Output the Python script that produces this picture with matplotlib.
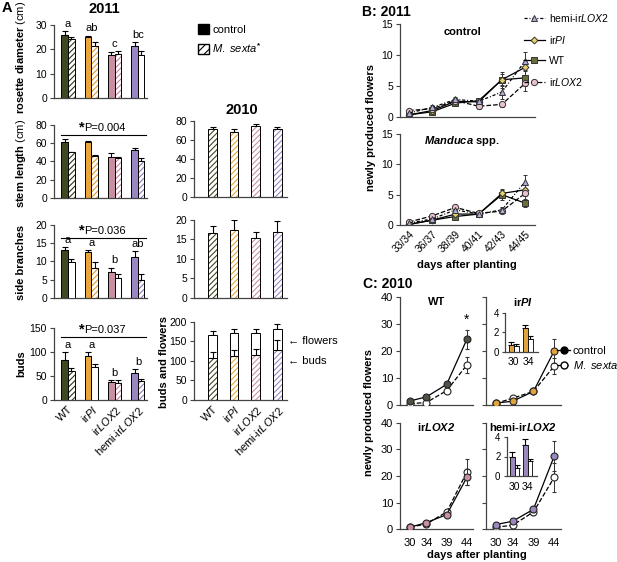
import matplotlib
matplotlib.use('Agg')
import matplotlib.pyplot as plt
from matplotlib.patches import Patch
from matplotlib.lines import Line2D
import numpy as np

plt.rcParams.update({
    'font.family': ['Liberation Sans', 'DejaVu Sans'],
    'font.size': 7.5,
    'mathtext.fontset': 'custom',
    'mathtext.rm': 'Liberation Sans',
    'mathtext.it': 'Liberation Sans:italic',
    'mathtext.bf': 'Liberation Sans:bold',
    'mathtext.bfit': 'Liberation Sans:italic:bold',
    'hatch.linewidth': 0.8,
    'axes.linewidth': 0.9,
})

# ---------------- data ----------------
genotypes = ['WT', 'irPI', 'irLOX2', 'hemi-irLOX2']
geno_labels = ['WT', r'ir$\mathit{PI}$', r'ir$\mathit{LOX2}$', r'hemi-ir$\mathit{LOX2}$']
geno_colors = ['#3f491f', '#e9a63b', '#c98fa0', '#9a86c0']
hatch_colors = ['#2f3618', '#e09a2c', '#c08496', '#8f7bb8']

# Panel A, 2011 (control / M. sexta)
rosette_ctrl = [26.1, 25.2, 17.7, 21.4]
rosette_ctrl_err = [1.6, 0.5, 1.3, 1.7]
rosette_ms = [24.4, 21.4, 18.1, 17.9]
rosette_ms_err = [0.7, 1.5, 1.3, 1.3]
rosette_hatched = [True, True, True, False]
rosette_letters = ['a', 'ab', 'c', 'bc']

stem_ctrl = [61.0, 61.5, 44.7, 52.7]
stem_ctrl_err = [4.0, 0.8, 4.0, 1.8]
stem_ms = [49.8, 45.8, 43.6, 40.7]
stem_ms_err = [0.8, 1.5, 1.5, 3.5]
stem_hatched = [True, True, True, True]
stem_p = 'P=0.004'
stem_p_line = 69

side_ctrl = [13.1, 12.5, 7.2, 11.1]
side_ctrl_err = [0.8, 0.5, 1.1, 1.8]
side_ms = [9.9, 8.3, 5.3, 5.0]
side_ms_err = [0.8, 1.5, 1.3, 1.4]
side_hatched = [False, True, False, True]
side_letters = ['a', 'a', 'b', 'ab']
side_p = 'P=0.036'
side_p_line = 16.4

buds_ctrl = [82.6, 91.0, 36.8, 56.3]
buds_ctrl_err = [16, 8, 5, 8]
buds_ms = [60.4, 67.4, 35.4, 38.2]
buds_ms_err = [5, 8, 5, 5]
buds_hatched = [True, False, True, True]
buds_letters = ['a', 'a', 'b', 'b']
buds_p = 'P=0.037'
buds_p_line = 130

# Panel A, 2010 (M. sexta only)
stem2010 = [71.3, 68.5, 75.0, 71.3]
stem2010_err = [2.5, 3.5, 2.0, 2.5]
side2010 = [16.6, 17.4, 15.4, 16.8]
side2010_err = [1.8, 2.5, 1.5, 3.0]
buds2010 = [106.5, 112.5, 115.8, 128.0]
buds2010_err = [16, 15, 14, 25]
total2010 = [166.0, 172.5, 172.5, 182.7]
total2010_err = [11, 9, 9, 11]

# Panel B, 2011
days_B = ['33/34', '36/37', '38/39', '40/41', '42/43', '44/45']
B_order = ['hemi-irLOX2', 'irPI', 'WT', 'irLOX2']
B_labels = [r'hemi-ir$\mathit{LOX2}$', r'ir$\mathit{PI}$', 'WT', r'ir$\mathit{LOX2}$']
B_ctrl = {
    'hemi-irLOX2': [0.6, 1.5, 2.8, 2.5, 4.0, 9.0],
    'irPI': [0.3, 1.0, 2.5, 2.4, 6.0, 8.0],
    'WT': [0.3, 0.8, 2.2, 2.6, 6.0, 6.3],
    'irLOX2': [1.0, 1.3, 2.6, 1.7, 2.0, 5.4],
}
B_ctrl_err = {
    'hemi-irLOX2': [0.3, 0.4, 0.4, 0.5, 1.2, 1.5],
    'irPI': [0.2, 0.4, 0.4, 0.4, 1.3, 1.2],
    'WT': [0.2, 0.3, 0.4, 0.4, 1.0, 1.3],
    'irLOX2': [0.3, 0.3, 0.4, 0.5, 0.4, 1.3],
}
B_ms = {
    'hemi-irLOX2': [0.3, 1.0, 2.5, 1.8, 2.5, 7.1],
    'irPI': [0.1, 0.8, 1.8, 1.8, 5.2, 5.8],
    'WT': [0.1, 0.8, 1.4, 1.8, 5.0, 3.6],
    'irLOX2': [0.5, 1.5, 2.9, 1.9, 2.3, 5.2],
}
B_ms_err = {
    'hemi-irLOX2': [0.2, 0.3, 0.4, 0.3, 0.5, 1.2],
    'irPI': [0.1, 0.3, 0.4, 0.3, 0.8, 1.0],
    'WT': [0.1, 0.3, 0.3, 0.3, 0.8, 0.6],
    'irLOX2': [0.2, 0.3, 0.4, 0.3, 0.4, 0.9],
}
B_styles = {
    'hemi-irLOX2': dict(marker='^', mfc='#b3acdb', ls=(0, (2.5, 1.5, 0.8, 1.5)), ms=4.5),
    'irPI': dict(marker='D', mfc='#e8cf68', ls='-', ms=3.5),
    'WT': dict(marker='s', mfc='#6b6e3b', ls='-', ms=4.5),
    'irLOX2': dict(marker='o', mfc='#e9c0d0', ls='--', ms=4.5),
}

# Panel C, 2010
days_C = [30, 34, 39, 44]
C_titles = [r'WT', r'ir$\mathbfit{PI}$', r'ir$\mathbfit{LOX2}$', r'hemi-ir$\mathbfit{LOX2}$']
C_colors = ['#4e5443', '#e2a23e', '#c8909f', '#9a88bd']
C_ctrl = [[1.5, 3.0, 7.6, 24.3], [0.7, 1.4, 5.0, 20.0],
          [0.8, 2.5, 5.5, 19.5], [1.8, 3.0, 7.5, 27.5]]
C_ctrl_err = [[0.3, 0.4, 1.0, 3.5], [0.3, 0.5, 0.6, 4.5],
              [0.2, 0.4, 0.7, 3.0], [0.5, 0.6, 1.0, 5.5]]
C_ms = [[0.5, 0.9, 5.3, 14.8], [0.6, 2.5, 5.0, 14.4],
        [0.8, 2.0, 6.5, 21.5], [0.8, 1.5, 6.5, 19.5]]
C_ms_err = [[0.2, 0.3, 0.8, 3.0], [0.3, 0.4, 0.7, 3.0],
            [0.2, 0.3, 0.8, 5.0], [0.3, 0.4, 1.0, 5.5]]
inset_days = ['30', '34']
irPI_in_ctrl = [0.7, 2.4]
irPI_in_ctrl_err = [0.3, 0.4]
irPI_in_ms = [0.6, 1.3]
irPI_in_ms_err = [0.2, 0.3]
hemi_in_ctrl = [2.0, 3.2]
hemi_in_ctrl_err = [0.5, 0.6]
hemi_in_ms = [0.8, 1.5]
hemi_in_ms_err = [0.3, 0.2]

# ---------------- figure ----------------
W, H = 617, 562
fig = plt.figure(figsize=(W / 100, H / 100), dpi=100)
SP = '#444444'
HATCH = '//////'


def add_ax(x0, y0, x1, y1):
    return fig.add_axes([x0 / W, 1 - y1 / H, (x1 - x0) / W, (y1 - y0) / H])


def ftext(x, y, s, **kw):
    return fig.text(x / W, 1 - y / H, s, **kw)


def style(ax):
    for s in ['top', 'right']:
        ax.spines[s].set_visible(False)
    for s in ['left', 'bottom']:
        ax.spines[s].set_color(SP)
    ax.tick_params(axis='y', direction='out', length=3, width=0.8, pad=2,
                   labelsize=7.5, color=SP)
    ax.tick_params(axis='x', length=0, labelsize=7.5)
    ax.patch.set_alpha(0)


def up_err(ax, x, y, e):
    ax.errorbar(x, y, yerr=[np.zeros(len(e)), e], fmt='none', ecolor='black',
                elinewidth=0.8, capsize=2, capthick=0.8, zorder=1)


def hatched_bar(ax, x, h, w, color, bottom=0):
    ax.bar(x, h, w, bottom=bottom, color='white', edgecolor=color, hatch=HATCH,
           lw=0, zorder=2)
    ax.bar(x, h, w, bottom=bottom, facecolor='none', edgecolor='black', lw=0.7, zorder=3)


def bar2011(ax, ctrl, ce, ms, me, hatched, ymax, step, letters=None,
            ptext=None, pline=None, xticks=False):
    style(ax)
    x = np.arange(len(genotypes))
    w = 0.28
    up_err(ax, x - w / 2, ctrl, ce)
    up_err(ax, x + w / 2, ms, me)
    for i in range(len(genotypes)):
        ax.bar(x[i] - w / 2, ctrl[i], w, color=geno_colors[i], edgecolor='black',
               lw=0.7, zorder=2)
        if hatched[i]:
            hatched_bar(ax, x[i] + w / 2, ms[i], w, hatch_colors[i])
        else:
            ax.bar(x[i] + w / 2, ms[i], w, facecolor='white', edgecolor='black',
                   lw=0.7, zorder=3)
    ax.set_xlim(-0.6, 3.39)
    ax.set_ylim(0, ymax)
    ax.set_yticks(np.arange(0, ymax + 0.1, step))
    if letters:
        for i, l in enumerate(letters):
            top = max(ctrl[i] + ce[i], ms[i] + me[i])
            ax.annotate(l, xy=(x[i], top), xytext=(0, 1.5), textcoords='offset points',
                        ha='center', va='bottom', fontsize=8, annotation_clip=False)
    if ptext:
        ax.plot([-w, 3.36], [pline, pline], color='black', lw=0.8, clip_on=False)
        ax.annotate(ptext, xy=(0.7, pline), xytext=(0, 1.5), textcoords='offset points',
                    ha='left', va='bottom', fontsize=8, annotation_clip=False)
        ax.annotate('*', xy=(0.7, pline), xytext=(0, 0.5), textcoords='offset points',
                    ha='right', va='bottom', fontsize=10.5, fontweight='bold',
                    annotation_clip=False)
    if xticks:
        ax.set_xticks(x)
        ax.set_xticklabels(geno_labels, rotation=45, ha='right', rotation_mode='anchor',
                           fontsize=8)
        ax.tick_params(axis='x', pad=3)
    else:
        ax.set_xticks([])


def bar2010(ax, vals, err, ymax, step):
    style(ax)
    x = np.arange(len(genotypes))
    w = 0.4
    up_err(ax, x, vals, err)
    for i in range(len(genotypes)):
        hatched_bar(ax, x[i], vals[i], w, geno_colors[i])
    ax.set_xlim(-0.86, 3.45)
    ax.set_ylim(0, ymax)
    ax.set_yticks(np.arange(0, ymax + 0.1, step))
    ax.set_xticks([])


# ---- Panel A 2011 ----
ax = add_ax(54, 25, 147, 98.3)
bar2011(ax, rosette_ctrl, rosette_ctrl_err, rosette_ms, rosette_ms_err, rosette_hatched,
        30, 10, letters=rosette_letters)
ax = add_ax(54, 125, 147, 197.7)
bar2011(ax, stem_ctrl, stem_ctrl_err, stem_ms, stem_ms_err, stem_hatched, 80, 20,
        ptext=stem_p, pline=stem_p_line)
ax = add_ax(54, 225, 147, 297.7)
bar2011(ax, side_ctrl, side_ctrl_err, side_ms, side_ms_err, side_hatched, 20, 5,
        letters=side_letters, ptext=side_p, pline=side_p_line)
ax = add_ax(54, 327.7, 147, 399.7)
bar2011(ax, buds_ctrl, buds_ctrl_err, buds_ms, buds_ms_err, buds_hatched, 150, 50,
        letters=buds_letters, ptext=buds_p, pline=buds_p_line, xticks=True)

# ---- Panel A 2010 ----
ax = add_ax(194, 121, 287, 197.3)
bar2010(ax, stem2010, stem2010_err, 80, 20)
ax = add_ax(194, 220, 287, 297.7)
bar2010(ax, side2010, side2010_err, 20, 5)
ax = add_ax(194, 322, 287, 399.7)
style(ax)
x = np.arange(len(genotypes))
w = 0.4
flowers2010 = [t - b for t, b in zip(total2010, buds2010)]
up_err(ax, x, total2010, total2010_err)
ax.bar(x, flowers2010, w, bottom=buds2010, color='white', edgecolor='black', lw=0.7, zorder=2)
for i in range(len(genotypes)):
    hatched_bar(ax, x[i], buds2010[i], w, geno_colors[i])
ax.errorbar(x, buds2010, yerr=[np.zeros(4), buds2010_err], fmt='none', ecolor='black',
            elinewidth=0.8, capsize=2, capthick=0.8, zorder=4)
ax.set_xlim(-0.86, 3.45)
ax.set_ylim(0, 200)
ax.set_yticks(np.arange(0, 201, 50))
ax.set_xticks(x)
ax.set_xticklabels(geno_labels, rotation=45, ha='right', rotation_mode='anchor', fontsize=8)
ax.tick_params(axis='x', pad=3)

ftext(2, 8, 'A', fontsize=10.5, fontweight='bold', va='center')
ftext(104, 9, '2011', fontsize=10.5, fontweight='bold', ha='center', va='center')
ftext(242, 110, '2010', fontsize=10.5, fontweight='bold', ha='center', va='center')
ftext(21, 57, r'$\mathbf{rosette\ diameter}$ (cm)', rotation=90, ha='center', va='center', fontsize=8)
ftext(21, 163, r'$\mathbf{stem\ length}$ (cm)', rotation=90, ha='center', va='center', fontsize=8)
ftext(21, 262, 'side branches', rotation=90, ha='center', va='center', fontsize=8, fontweight='bold')
ftext(21, 364, 'buds', rotation=90, ha='center', va='center', fontsize=8, fontweight='bold')
ftext(164, 362, 'buds and flowers', rotation=90, ha='center', va='center', fontsize=8, fontweight='bold')
ftext(288, 341, '\u2190 flowers', ha='left', va='center', fontsize=8)
ftext(288, 361, '\u2190 buds', ha='left', va='center', fontsize=8)

fig.legend(handles=[Patch(facecolor='black', edgecolor='black'),
                    Patch(facecolor='white', edgecolor='black', hatch='////')],
           labels=['control', r'$\mathit{M.\ sexta}^{\mathbf{*}}$'],
           loc='upper left', bbox_to_anchor=(198 / W, 1 - 24 / H),
           frameon=False, fontsize=8, handlelength=1.0, handleheight=1.0,
           handletextpad=0.3, labelspacing=0.55, borderaxespad=0, borderpad=0)


# ---- Panel B ----
def lineB(ax, data, derr, title):
    style(ax)
    xi = np.arange(len(days_B))
    for g in ['WT', 'irPI', 'irLOX2', 'hemi-irLOX2']:
        st = B_styles[g]
        ax.errorbar(xi, data[g], yerr=derr[g], color='black', lw=0.9, ls=st['ls'],
                    marker=st['marker'], mfc=st['mfc'], mec='#333333', ms=st['ms'],
                    mew=0.7, ecolor='#333333', elinewidth=0.7, capsize=1.5, capthick=0.7)
    ax.set_xlim(-0.39, 5.43)
    ax.set_ylim(0, 15)
    ax.set_yticks([0, 5, 10, 15])
    ax.set_xticks([])
    ax.text(0.46, 0.92, title, transform=ax.transAxes, ha='center', va='center',
            fontsize=8, fontweight='bold')
    return xi


ax = add_ax(400, 24.3, 535, 116.7)
lineB(ax, B_ctrl, B_ctrl_err, 'control')
ax = add_ax(400, 134, 535, 225)
xi = lineB(ax, B_ms, B_ms_err, r'$\mathbfit{Manduca}$ spp.')
ax.set_xticks(xi)
ax.set_xticklabels(days_B, rotation=45, ha='right', rotation_mode='anchor')
ax.tick_params(axis='x', pad=3)

handlesB = []
for g in B_order:
    st = B_styles[g]
    handlesB.append(Line2D([], [], color='black', lw=0.9, ls=st['ls'], marker=st['marker'],
                           mfc=st['mfc'], mec='#333333', ms=st['ms'], mew=0.7))
fig.legend(handles=handlesB, labels=B_labels, loc='upper left',
           bbox_to_anchor=(524 / W, 1 - 12 / H), frameon=False, fontsize=7.5,
           handlelength=2.0, handletextpad=0.4, labelspacing=0.95, borderaxespad=0, borderpad=0)

ftext(362, 12, 'B: 2011', fontsize=10, fontweight='bold', ha='left', va='center')
ftext(371, 128, 'newly produced flowers', rotation=90, ha='center', va='center',
      fontsize=8, fontweight='bold')
ftext(467, 265, 'days after planting', ha='center', va='center', fontsize=8, fontweight='bold')

# ---- Panel C ----
C_boxes = [(400, 296.7, 473, 405), (485.5, 296.7, 560.5, 405),
           (400, 422.7, 473, 529.3), (485.5, 422.7, 560.5, 529.3)]
for k in range(4):
    ax = add_ax(*C_boxes[k])
    style(ax)
    ax.errorbar(days_C, C_ms[k], yerr=C_ms_err[k], color='black', lw=0.9, ls='--',
                marker='o', mfc='white', mec='#222222', ms=5, mew=0.8,
                ecolor='#333333', elinewidth=0.7, capsize=1.5, capthick=0.7, zorder=3)
    ax.errorbar(days_C, C_ctrl[k], yerr=C_ctrl_err[k], color='black', lw=0.9, ls='-',
                marker='o', mfc=C_colors[k], mec='#222222', ms=5, mew=0.8,
                ecolor='#333333', elinewidth=0.7, capsize=1.5, capthick=0.7, zorder=4)
    ax.set_xlim(27.5, 45.5)
    ax.set_ylim(0, 40)
    ax.set_yticks([0, 10, 20, 30, 40])
    ax.set_xticks(days_C)
    ax.tick_params(axis='x', pad=6, labelsize=8)
    ax.tick_params(axis='y', labelsize=8)
    if k < 2:
        ax.set_xticklabels([])
    if k % 2 == 1:
        ax.set_yticklabels([])
    ax.text(0.5, 0.955, C_titles[k], transform=ax.transAxes, ha='center', va='center',
            fontsize=8, fontweight='bold')
    if k == 0:
        ax.text(days_C[-1], C_ctrl[0][-1] + C_ctrl_err[0][-1] + 1.0, '*', ha='center',
                va='bottom', fontsize=10)


def inset(box, ctrl, ce, ms, me, color):
    ax = add_ax(*box)
    style(ax)
    xi = np.arange(len(inset_days))
    w = 0.35
    up_err(ax, xi - w / 2, ctrl, ce)
    up_err(ax, xi + w / 2, ms, me)
    ax.bar(xi - w / 2, ctrl, w, color=color, edgecolor='black', lw=0.6, zorder=2)
    ax.bar(xi + w / 2, ms, w, color='white', edgecolor='black', lw=0.6, zorder=2)
    ax.set_xlim(-0.6, 1.7)
    ax.set_ylim(0, 4)
    ax.set_yticks([0, 2, 4])
    ax.set_xticks(xi)
    ax.set_xticklabels(inset_days)
    ax.tick_params(axis='x', pad=4, labelsize=7.5)
    ax.tick_params(axis='y', labelsize=7, length=2.5)


inset((505, 313, 538, 351.7), irPI_in_ctrl, irPI_in_ctrl_err, irPI_in_ms, irPI_in_ms_err,
      C_colors[1])
inset((506.7, 437, 536.7, 476), hemi_in_ctrl, hemi_in_ctrl_err, hemi_in_ms, hemi_in_ms_err,
      C_colors[3])

handlesC = [Line2D([], [], color='black', lw=0.9, ls='-', marker='o', mfc='black',
                   mec='black', ms=5),
            Line2D([], [], color='black', lw=0.9, ls='--', marker='o', mfc='white',
                   mec='black', ms=5)]
fig.legend(handles=handlesC, labels=['control', r'$\mathit{M.\ sexta}$'], loc='upper left',
           bbox_to_anchor=(557 / W, 1 - 346 / H), frameon=False, fontsize=8,
           handlelength=1.2, handletextpad=0.2, labelspacing=0.3, borderaxespad=0, borderpad=0)

ftext(363, 284, 'C: 2010', fontsize=10, fontweight='bold', ha='left', va='center')
ftext(369, 413, 'newly produced flowers', rotation=90, ha='center', va='center',
      fontsize=8, fontweight='bold')
ftext(477, 555, 'days after planting', ha='center', va='center', fontsize=8, fontweight='bold')

fig.savefig('out.png', dpi=100)
